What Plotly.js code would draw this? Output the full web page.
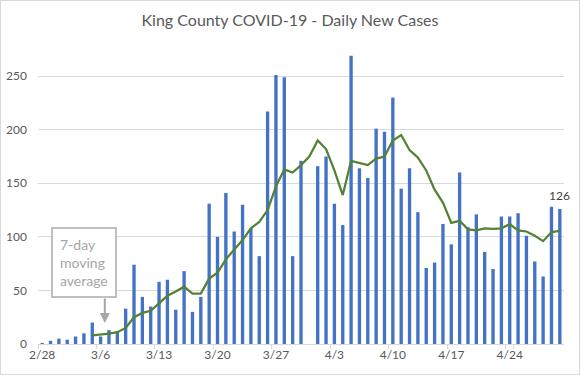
<!DOCTYPE html>
<html>
<head>
<meta charset="utf-8">
<script src="https://cdn.plot.ly/plotly-3.0.1.min.js"></script>
<style>
  html, body { margin: 0; padding: 0; background: #fff; }
  #wrap { position: relative; width: 580px; height: 375px; }
  #chart { width: 580px; height: 375px; }
  #frame { position: absolute; left: 0; top: 0; width: 580px; height: 375px; box-sizing: border-box; border: 1px solid #d9d9d9; pointer-events: none; }
</style>
</head>
<body>
<div id="wrap"><div id="chart"></div><div id="frame"></div></div>
<script>
const dates = [
  "2/28","2/29",
  "3/1","3/2","3/3","3/4","3/5","3/6","3/7","3/8","3/9","3/10",
  "3/11","3/12","3/13","3/14","3/15","3/16","3/17","3/18","3/19","3/20",
  "3/21","3/22","3/23","3/24","3/25","3/26","3/27","3/28","3/29","3/30","3/31",
  "4/1","4/2","4/3","4/4","4/5","4/6","4/7","4/8","4/9","4/10",
  "4/11","4/12","4/13","4/14","4/15","4/16","4/17","4/18","4/19","4/20",
  "4/21","4/22","4/23","4/24","4/25","4/26","4/27","4/28","4/29","4/30"
];
const dailyCases = [
  1, 3,
  5, 4, 7, 10, 20, 7, 13, 12, 33, 74,
  44, 35, 58, 60, 32, 68, 30, 44, 131, 100,
  141, 105, 130, 108, 82, 217, 251, 249, 82, 171, null,
  166, 175, 131, 111, 269, 164, 155, 201, 198, 230,
  145, 164, 123, 71, 76, 112, 93, 160, 109, 121,
  86, 70, 119, 119, 122, 101, 77, 63, 128, 126
];
const movingAvg = [
  null, null,
  null, null, null, null, 8, 8.7, 9.6, 11, 15, 25,
  29, 31, 38, 45, 49, 53.5, 47, 47, 61, 66.5,
  79, 88, 97, 108, 114, 125, 147, 163, 160, 167, 175,
  190, 182, 162, 139, 171, 169, 167, 173, 175, 190,
  195, 181, 174, 162, 144, 132, 113, 115, 107, 106,
  108, 107.5, 108, 112, 106, 105, 101, 96, 104.5, 105.5
];
const tickLabels = ["2/28","3/6","3/13","3/20","3/27","4/3","4/10","4/17","4/24"];
const yTicks = [0, 50, 100, 150, 200, 250];

const FONT = "Lato, 'Open Sans', sans-serif";

const traces = [
  {
    type: "bar",
    x: dates,
    y: dailyCases,
    width: 0.4,
    marker: { color: "#4472C4" },
    hoverinfo: "skip"
  },
  {
    type: "scatter",
    mode: "lines",
    x: dates,
    y: movingAvg,
    line: { color: "#548235", width: 2.25 },
    hoverinfo: "skip"
  }
];

const last = dates.length - 1;

const layout = {
  width: 580,
  height: 375,
  margin: { l: 38, r: 16, t: 44, b: 31 },
  paper_bgcolor: "#ffffff",
  plot_bgcolor: "#ffffff",
  showlegend: false,
  hovermode: false,
  font: { family: FONT, color: "#595959", size: 12 },
  title: {
    text: "King County COVID-19 - Daily New Cases",
    font: { family: FONT, size: 16, color: "#595959" },
    x: 0.5, xref: "container", xanchor: "center",
    y: 1 - 20 / 375, yref: "container", yanchor: "middle"
  },
  xaxis: {
    type: "category",
    categoryorder: "array",
    categoryarray: dates,
    range: [-0.5, dates.length - 0.5],
    tickmode: "array",
    tickvals: tickLabels,
    ticktext: tickLabels,
    tickangle: 0,
    tickson: "boundaries",
    ticks: "outside",
    ticklen: 4,
    tickwidth: 1,
    tickcolor: "#d9d9d9",
    showline: true,
    linecolor: "#d9d9d9",
    linewidth: 1,
    showgrid: false,
    zeroline: false,
    tickfont: { family: FONT, size: 12, color: "#595959" },
    fixedrange: true
  },
  yaxis: {
    range: [0, 280],
    tickmode: "array",
    tickvals: yTicks,
    showgrid: true,
    gridcolor: "#d9d9d9",
    gridwidth: 1,
    zeroline: false,
    showline: false,
    ticks: "",
    ticklabelstandoff: 10,
    tickfont: { family: FONT, size: 12, color: "#595959" },
    fixedrange: true
  },
  annotations: [
    {
      x: dates[last], y: dailyCases[last],
      xref: "x", yref: "y",
      text: String(dailyCases[last]),
      showarrow: false,
      yanchor: "bottom",
      yshift: 4,
      font: { family: FONT, size: 12, color: "#404040" }
    },
    {
      x: 4.98, y: 75.7, xref: "x", yref: "y",
      text: "7-day<br>moving<br>average",
      showarrow: false,
      align: "left",
      xanchor: "center", yanchor: "middle",
      bgcolor: "#ffffff",
      bordercolor: "#bfbfbf",
      borderwidth: 2,
      borderpad: 7,
      font: { family: FONT, size: 14, color: "#a6a6a6" }
    },
    {
      x: 7.5, y: 19.6, xref: "x", yref: "y",
      text: "",
      showarrow: true,
      arrowhead: 2,
      arrowsize: 1,
      arrowwidth: 2,
      arrowcolor: "#a6a6a6",
      ax: 0, ay: -26
    }
  ]
};

Plotly.newPlot("chart", traces, layout, { staticPlot: true, displayModeBar: false });
</script>
</body>
</html>
